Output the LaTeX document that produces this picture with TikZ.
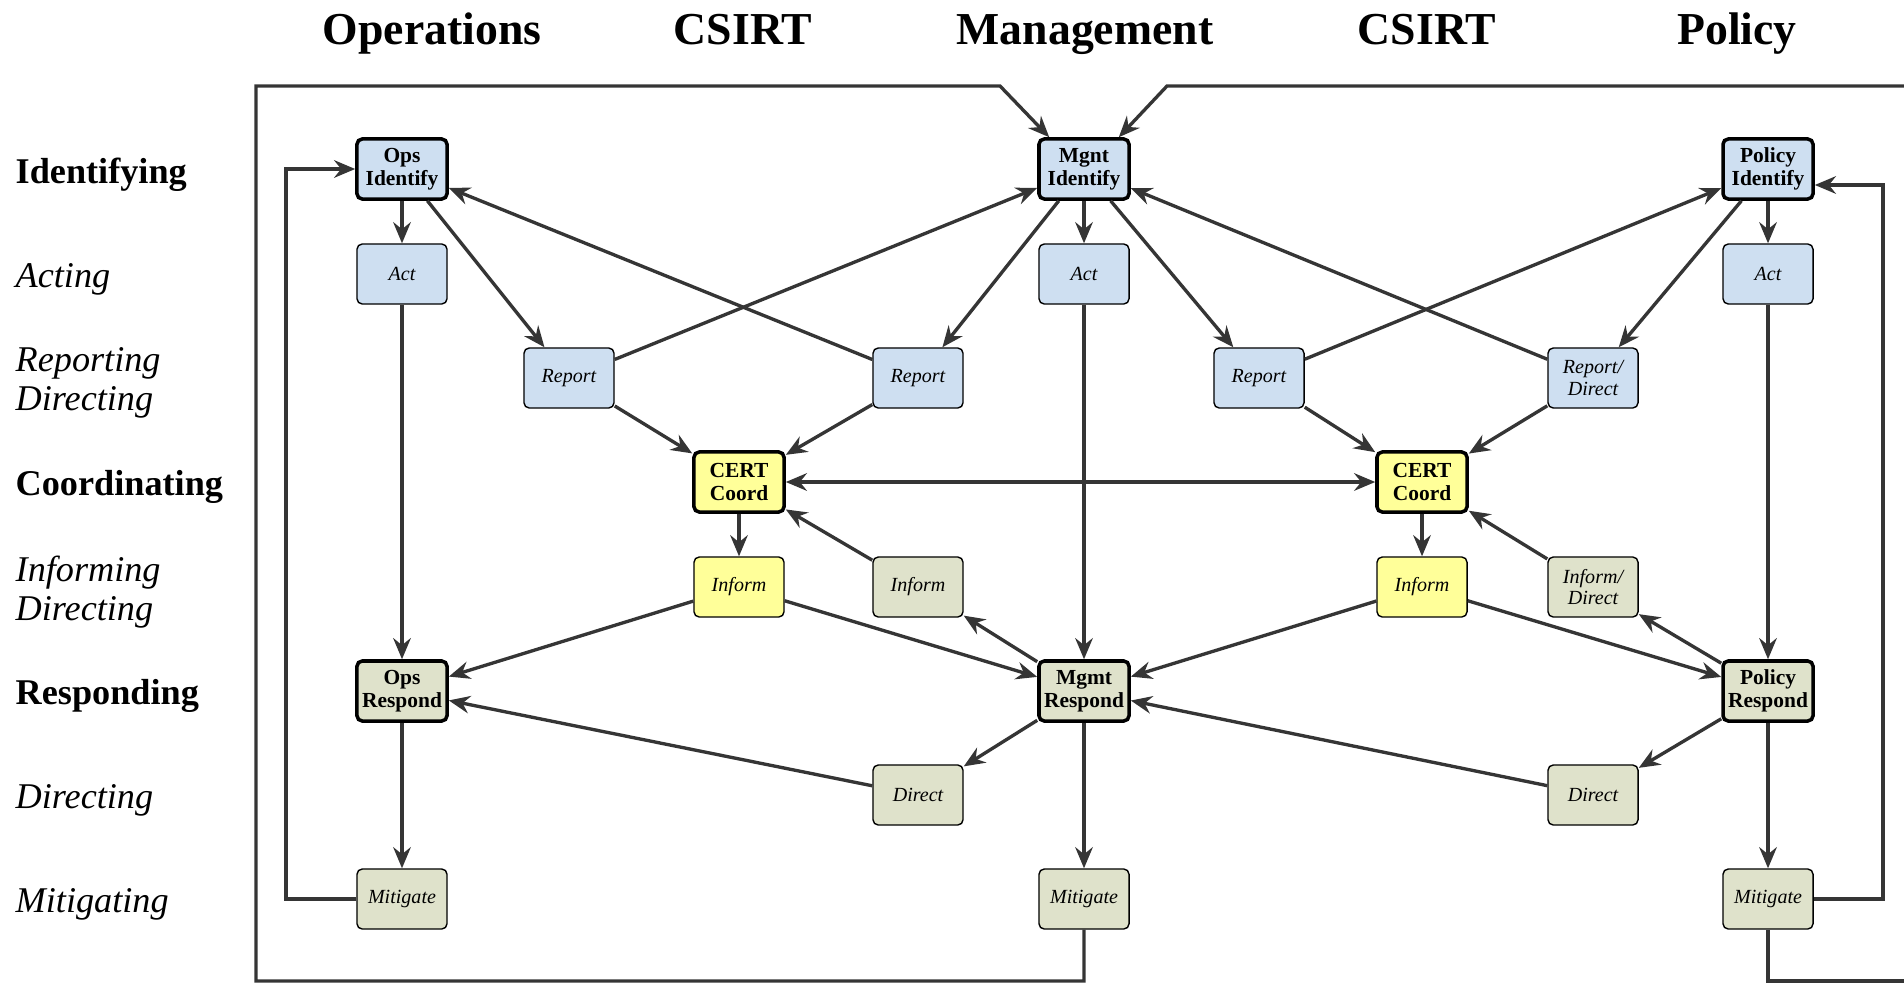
\documentclass[tikz,border=0pt]{standalone}
\usepackage{fontspec}
\setmainfont{Liberation Serif}
\usepackage{tikz}
\usetikzlibrary{positioning,arrows.meta,calc}
\definecolor{ink}     {HTML}{353535}
\definecolor{idblue}  {HTML}{CEDFF1}
\definecolor{coyellow}{HTML}{FFFF99}
\definecolor{rsgrey}  {HTML}{DFE2CB}
\newcommand{\txtcell}{\fontsize{5.7}{6.2}\selectfont\itshape}
\newcommand{\txtkey}{\fontsize{6.1}{6.5}\selectfont\bfseries}
\tikzset{
  >={Stealth[length=6pt,width=5pt,inset=2pt]},
  % --- nodes
  cell/.style  = {rounded corners=1.5pt, draw=black, line width=0.4pt, align=center,
                  inner sep=1pt, minimum width=9mm, minimum height=6mm, font=\txtcell},
  key/.style   = {cell, line width=1pt, font=\txtkey},
  idf/.style   = {fill=idblue},
  cof/.style   = {fill=coyellow},
  rsf/.style   = {fill=rsgrey},
  hdr/.style   = {anchor=base, font=\fontsize{13}{15}\selectfont\bfseries},
  phase/.style = {anchor=west, align=left, inner sep=0pt, font=\fontsize{10.3}{11.2}\selectfont\bfseries},
  subph/.style = {phase, font=\fontsize{10.3}{11.2}\selectfont\itshape},
  % --- edges
  e/.style     = {->, line width=0.95pt, draw=ink},
  ln/.style    = {line width=0.95pt, draw=ink},
}

\begin{document}
\begin{tikzpicture}[x=0.01cm,y=-0.01cm]
  \useasboundingbox (0,0) rectangle (1904,982);

  % column heads
  \node[hdr] (hOps)  at (432,45)  {Operations};
  \node[hdr] (hCsL)  at (743,45)  {CSIRT};
  \node[hdr] (hMgmt) at (1085,45) {Management};
  \node[hdr] (hCsR)  at (1427,45) {CSIRT};
  \node[hdr] (hPol)  at (1737,45) {Policy};

  % phases
  \node[phase] (pId)   at (15,175) {Identifying};
  \node[subph] (pAct)  at (15,279) {Acting};
  \node[subph] (pRep)  at (15,383) {Reporting\\Directing};
  \node[phase] (pCo)   at (15,487) {Coordinating};
  \node[subph] (pInf)  at (15,592) {Informing\\Directing};
  \node[phase] (pResp) at (15,696) {Responding};
  \node[subph] (pDir)  at (15,800) {Directing};
  \node[subph] (pMit)  at (15,904) {Mitigating};

  % operations
  \node[key,idf]  (opsId)   at (402,169) {Ops\\Identify};
  \node[cell,idf] (opsAct)  at (402,274) {Act};
  \node[key,rsf]  (opsResp) at (402,691) {Ops\\Respond};
  \node[cell,rsf] (opsMit)  at (402,899) {Mitigate};

  % management
  \node[key,idf]  (mgmtId)   at (1084,169) {Mgnt\\Identify};
  \node[cell,idf] (mgmtAct)  at (1084,274) {Act};
  \node[key,rsf]  (mgmtResp) at (1084,691) {Mgmt\\Respond};
  \node[cell,rsf] (mgmtMit)  at (1084,899) {Mitigate};

  % policy
  \node[key,idf]  (polId)   at (1768,169) {Policy\\Identify};
  \node[cell,idf] (polAct)  at (1768,274) {Act};
  \node[key,rsf]  (polResp) at (1768,691) {Policy\\Respond};
  \node[cell,rsf] (polMit)  at (1768,899) {Mitigate};

  % csirt
  \node[cell,idf] (repA) at (569,378)  {Report};
  \node[cell,idf] (repB) at (918,378)  {Report};
  \node[cell,idf] (repC) at (1259,378) {Report};
  \node[cell,idf] (repD) at (1593,378) {Report/\\Direct};
  \node[key,cof]  (coordL) at (739,482)  {CERT\\Coord};
  \node[key,cof]  (coordR) at (1422,482) {CERT\\Coord};
  \node[cell,cof] (infA) at (739,587)  {Inform};
  \node[cell,rsf] (infB) at (918,587)  {Inform};
  \node[cell,cof] (infC) at (1422,587) {Inform};
  \node[cell,rsf] (infD) at (1593,587) {Inform/\\Direct};
  \node[cell,rsf] (dirB) at (918,795)  {Direct};
  \node[cell,rsf] (dirD) at (1593,795) {Direct};

  % down the three columns
  \draw[e] (opsId)--(opsAct); \draw[e] (opsAct)--(opsResp); \draw[e] (opsResp)--(opsMit);
  \draw[e] (mgmtId)--(mgmtAct); \draw[e] (mgmtAct)--(mgmtResp); \draw[e] (mgmtResp)--(mgmtMit);
  \draw[e] (polId)--(polAct); \draw[e] (polAct)--(polResp); \draw[e] (polResp)--(polMit);

  % reporting / directing
  \draw[e] (opsId)--(repA); \draw[e] (repA)--(mgmtId);
  \draw[e] (repB)--(opsId); \draw[e] (mgmtId)--(repB);
  \draw[e] (mgmtId)--(repC); \draw[e] (repC)--(polId);
  \draw[e] (repD)--(mgmtId); \draw[e] (polId)--(repD);
  \draw[e] (repA)--(coordL); \draw[e] (repB)--(coordL);
  \draw[e] (repC)--(coordR); \draw[e] (repD)--(coordR);
  \draw[e,<->] (coordL)--(coordR);

  % informing / directing
  \draw[e] (coordL)--(infA); \draw[e] (coordR)--(infC);
  \draw[e] (infB)--(coordL); \draw[e] (infD)--(coordR);
  \draw[e] (infA)--(opsResp); \draw[e] (infA)--(mgmtResp);
  \draw[e] (infC)--(mgmtResp); \draw[e] (infC)--(polResp);
  \draw[e] (mgmtResp)--(infB); \draw[e] (polResp)--(infD);
  \draw[e] (mgmtResp)--(dirB); \draw[e] (dirB)--(opsResp);
  \draw[e] (polResp)--(dirD); \draw[e] (dirD)--(mgmtResp);

  % feedback loops
  \draw[e] (opsMit.west) -| (286,169) -- (opsId.west);
  \draw[e] (polMit.east) -| (1883,185) -- (polId.east |- 1883,185);
  \draw[e] (mgmtMit.south) |- (256,981) |- (1000,86)
           -- ($(mgmtId.north west)+(12,0)$);
  \coordinate (rimB) at (1904,981);
  \coordinate (rimT) at (1904,86);
  \draw[ln] (polMit.south) |- (rimB);
  \draw[e] (rimT) -- (1167,86) -- ($(mgmtId.north east)+(-12,0)$);
\end{tikzpicture}
\end{document}
